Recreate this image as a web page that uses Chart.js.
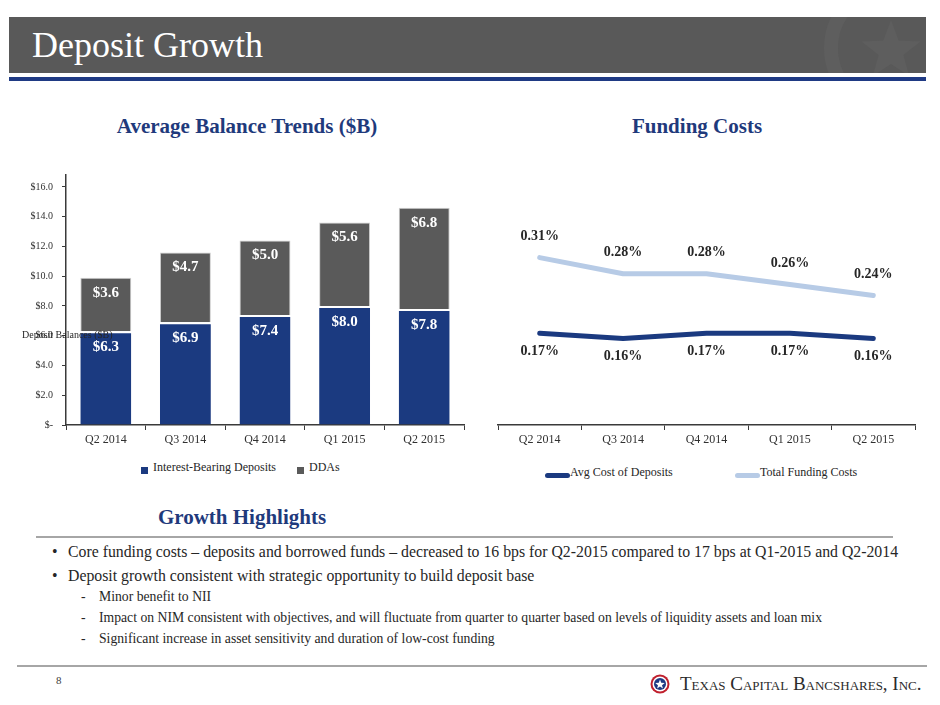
<!DOCTYPE html>
<html>
<head>
<meta charset="utf-8">
<script src="https://cdn.jsdelivr.net/npm/chart.js@4.4.1/dist/chart.umd.min.js"></script>
<style>
html,body{margin:0;padding:0;background:#fff;}
body{width:940px;height:705px;position:relative;overflow:hidden;font-family:'Liberation Serif',serif;color:#262626;}
.abs{position:absolute;white-space:nowrap;}
#band{left:9px;top:17px;width:917px;height:56px;background:#595959;overflow:hidden;}
#blueline{left:9px;top:77px;width:917px;height:4px;background:#1f3a84;}
#title{left:32px;top:27px;font-size:36px;line-height:36px;color:#fff;}
.sub{font-size:21px;line-height:21px;color:#1f3a7c;font-weight:bold;transform:translateX(-50%);}
.rule{height:2px;background:#a6a6a6;}
.b1{font-size:15.8px;line-height:16px;color:#262626;}
.b2{font-size:13.7px;line-height:14px;color:#262626;}
.legend{font-size:12px;line-height:12px;color:#262626;}
canvas{position:absolute;}
</style>
</head>
<body>
<div id="band" class="abs">
  <svg width="917" height="56" style="position:absolute;left:0;top:0">
    <circle cx="884" cy="31" r="62" fill="none" stroke="#5e5e5e" stroke-width="14"/>
    <polygon id="star" fill="#5e5e5e" points=""/>
  </svg>
</div>
<div id="blueline" class="abs"></div>
<div id="title" class="abs">Deposit Growth</div>

<div class="abs sub" style="left:247px;top:116px;">Average Balance Trends ($B)</div>
<div class="abs sub" style="left:697px;top:116px;">Funding Costs</div>

<canvas id="barChart" width="470" height="295" style="left:0;top:160px;width:470px;height:295px;"></canvas>
<canvas id="lineChart" width="460" height="275" style="left:480px;top:180px;width:460px;height:275px;"></canvas>
<div class="abs" style="left:22px;top:330px;font-size:10px;line-height:10px;color:#262626;">Deposit Balances ($B)</div>
<div id="barLegend"></div>
<div id="lineLegend"></div>

<div class="abs sub" style="left:242px;top:507px;">Growth Highlights</div>
<div class="abs rule" style="left:36px;top:536px;width:857px;"></div>

<div class="abs b1" style="left:52px;top:544px;">•</div>
<div class="abs b1" style="left:68px;top:544px;">Core funding costs – deposits and borrowed funds – decreased to 16 bps for Q2-2015 compared to 17 bps at Q1-2015 and Q2-2014</div>
<div class="abs b1" style="left:52px;top:568px;">•</div>
<div class="abs b1" style="left:68px;top:568px;">Deposit growth consistent with strategic opportunity to build deposit base</div>
<div class="abs b2" style="left:81px;top:590px;">-</div>
<div class="abs b2" style="left:99px;top:590px;">Minor benefit to NII</div>
<div class="abs b2" style="left:81px;top:611px;">-</div>
<div class="abs b2" style="left:99px;top:611px;">Impact on NIM consistent with objectives, and will fluctuate from quarter to quarter based on levels of liquidity assets and loan mix</div>
<div class="abs b2" style="left:81px;top:632px;">-</div>
<div class="abs b2" style="left:99px;top:632px;">Significant increase in asset sensitivity and duration of low-cost funding</div>

<div class="abs rule" style="left:17px;top:665px;width:910px;"></div>
<div class="abs" style="left:56px;top:675px;font-size:11px;line-height:11px;color:#404040;">8</div>
<svg class="abs" style="left:650px;top:674px" width="20" height="20">
  <circle cx="10" cy="10" r="9.5" fill="#c0202e"/>
  <circle cx="10" cy="10" r="7.5" fill="#fff"/>
  <circle cx="10" cy="10" r="6" fill="#1f3a84"/>
  <polygon id="logostar" fill="#fff" points=""/>
</svg>
<div class="abs" style="left:680px;top:674px;font-size:19px;line-height:19px;color:#2b2b2b;font-variant:small-caps;">Texas Capital Bancshares, Inc.</div>

<script>
// ---------- data ----------
const categories = ['Q2 2014', 'Q3 2014', 'Q4 2014', 'Q1 2015', 'Q2 2015'];
const barSeriesNames = ['Interest-Bearing Deposits', 'DDAs'];
const interestBearing = [6.3, 6.9, 7.4, 8.0, 7.8];
const ddas = [3.6, 4.7, 5.0, 5.6, 6.8];
const yTickValues = [0, 2, 4, 6, 8, 10, 12, 14, 16];
const yTickLabels = ['$-', '$2.0', '$4.0', '$6.0', '$8.0', '$10.0', '$12.0', '$14.0', '$16.0'];
const lineSeriesNames = ['Avg Cost of Deposits', 'Total Funding Costs'];
const avgCostOfDeposits = [0.17, 0.16, 0.17, 0.17, 0.16];
const totalFundingCosts = [0.31, 0.28, 0.28, 0.26, 0.24];

// ---------- styles ----------
const NAVY = '#1b3a80';
const GRAY = '#5a5a5a';
const LIGHT = '#b7cbe6';
const AXIS = '#3a3a3a';

function starPoints(cx, cy, R, r) {
  const pts = [];
  for (let i = 0; i < 10; i++) {
    const rad = i % 2 === 0 ? R : r;
    const a = -Math.PI / 2 + i * Math.PI / 5;
    pts.push((cx + rad * Math.cos(a)).toFixed(2) + ',' + (cy + rad * Math.sin(a)).toFixed(2));
  }
  return pts.join(' ');
}
document.getElementById('star').setAttribute('points', starPoints(882, 34, 31, 13));
document.getElementById('logostar').setAttribute('points', starPoints(10, 10.5, 5, 2.1));

Chart.defaults.font.family = "'Liberation Serif', serif";
Chart.defaults.color = '#262626';

const valueLabels = {
  id: 'valueLabels',
  afterDatasetsDraw(chart) {
    const ctx = chart.ctx;
    chart.data.datasets.forEach((ds, i) => {
      const cfg = ds.valueLabel;
      if (!cfg) return;
      const meta = chart.getDatasetMeta(i);
      ctx.save();
      ctx.font = cfg.font;
      ctx.fillStyle = cfg.color;
      ctx.textAlign = 'center';
      ctx.textBaseline = 'middle';
      meta.data.forEach((el, j) => {
        const v = ds.data[j];
        const y = cfg.mode === 'barTop' ? Math.min(el.y, el.base) + cfg.offset : el.y + cfg.offset;
        ctx.fillText(cfg.format(v), el.x, y);
      });
      ctx.restore();
    });
  }
};

const barFmt = v => '$' + v.toFixed(1);
const pctFmt = v => v.toFixed(2) + '%';

new Chart(document.getElementById('barChart'), {
  type: 'bar',
  data: {
    labels: categories,
    datasets: [
      { label: barSeriesNames[0], data: interestBearing, backgroundColor: NAVY,
        borderColor: '#ffffff', borderWidth: { top: 2, left: 0, right: 0, bottom: 0 }, borderSkipped: false,
        valueLabel: { mode: 'barTop', offset: 16, font: "bold 15px 'Liberation Serif', serif", color: '#ffffff', format: barFmt } },
      { label: barSeriesNames[1], data: ddas, backgroundColor: GRAY,
        borderColor: '#cfcfcf', borderWidth: { top: 1, left: 1, right: 1, bottom: 0 }, borderSkipped: false,
        valueLabel: { mode: 'barTop', offset: 15, font: "bold 15px 'Liberation Serif', serif", color: '#ffffff', format: barFmt } }
    ]
  },
  options: {
    responsive: false,
    animation: false,
    events: [],
    layout: { padding: { top: 12, right: 6, left: 0, bottom: 0 } },
    plugins: { legend: { display: false }, tooltip: { enabled: false } },
    datasets: { bar: { categoryPercentage: 1, barPercentage: 0.64 } },
    scales: {
      x: {
        stacked: true,
        grid: { display: true, drawOnChartArea: false, drawTicks: true, tickLength: 5, color: AXIS, lineWidth: 1 },
        border: { display: true, color: AXIS, width: 1.5 },
        ticks: { color: '#303030', font: { size: 12 }, padding: 3 },
        afterFit(s) { s.height = 30; }
      },
      y: {
        stacked: true, min: 0, max: 16.8,
        grid: { display: true, drawOnChartArea: false, drawTicks: true, tickLength: 4, color: AXIS, lineWidth: 1 },
        border: { display: true, color: AXIS, width: 1.5 },
        ticks: {
          stepSize: 2, includeBounds: false, color: '#303030', font: { size: 10 }, padding: 9,
          callback: v => { const k = yTickValues.indexOf(v); return k >= 0 ? yTickLabels[k] : ''; }
        },
        afterFit(s) { s.width = 66; }
      }
    }
  },
  plugins: [valueLabels]
});

new Chart(document.getElementById('lineChart'), {
  type: 'line',
  data: {
    labels: categories,
    datasets: [
      { label: lineSeriesNames[0], data: avgCostOfDeposits, borderColor: NAVY, backgroundColor: NAVY,
        borderWidth: 5, pointRadius: 0, tension: 0, fill: false, borderCapStyle: 'round', borderJoinStyle: 'round',
        valueLabel: { mode: 'point', offset: 18, font: "bold 14px 'Liberation Serif', serif", color: '#262626', format: pctFmt } },
      { label: lineSeriesNames[1], data: totalFundingCosts, borderColor: LIGHT, backgroundColor: LIGHT,
        borderWidth: 5, pointRadius: 0, tension: 0, fill: false, borderCapStyle: 'round', borderJoinStyle: 'round',
        valueLabel: { mode: 'point', offset: -21, font: "bold 14px 'Liberation Serif', serif", color: '#262626', format: pctFmt } }
    ]
  },
  options: {
    responsive: false,
    animation: false,
    events: [],
    layout: { padding: { top: 29, right: 25, left: 18, bottom: 0 } },
    plugins: { legend: { display: false }, tooltip: { enabled: false } },
    scales: {
      x: {
        offset: true,
        grid: { display: true, offset: true, drawOnChartArea: false, drawTicks: true, tickLength: 5, color: AXIS, lineWidth: 1 },
        border: { display: true, color: AXIS, width: 1.5 },
        ticks: { color: '#303030', font: { size: 12 }, padding: 3 },
        afterFit(s) { s.height = 30; }
      },
      y: { display: false, min: 0, max: 0.4 }
    }
  },
  plugins: [valueLabels]
});

// ---------- legends (built from series names/colours) ----------
function addLegendItem(parent, kind, color, text, swX, swY, txX, txY) {
  const sw = document.createElement('div');
  sw.className = 'abs';
  if (kind === 'square') {
    sw.style.cssText = `left:${swX}px;top:${swY}px;width:7px;height:7px;background:${color};`;
  } else {
    sw.style.cssText = `left:${swX}px;top:${swY}px;width:25px;height:5px;border-radius:3px;background:${color};`;
  }
  parent.appendChild(sw);
  const t = document.createElement('div');
  t.className = 'abs legend';
  t.style.left = txX + 'px';
  t.style.top = txY + 'px';
  t.textContent = text;
  parent.appendChild(t);
}
const bl = document.getElementById('barLegend');
addLegendItem(bl, 'square', NAVY, barSeriesNames[0], 141, 467, 153, 461);
addLegendItem(bl, 'square', GRAY, barSeriesNames[1], 297, 467, 309, 461);
const ll = document.getElementById('lineLegend');
addLegendItem(ll, 'line', NAVY, lineSeriesNames[0], 545, 473, 570, 466);
addLegendItem(ll, 'line', LIGHT, lineSeriesNames[1], 735, 473, 760, 466);
</script>
</body>
</html>
